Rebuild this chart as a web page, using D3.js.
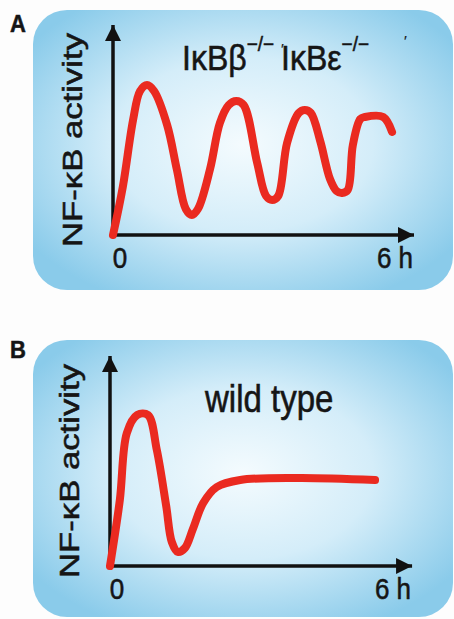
<!DOCTYPE html>
<html>
<head>
<meta charset="utf-8">
<script src="https://cdn.jsdelivr.net/npm/d3@7"></script>
<style>
  body { margin: 0; background: #fdfdfd; }
  svg { display: block; }
  text { font-family: "Liberation Sans", Arial, sans-serif; fill: #151515; stroke: #151515; stroke-width: 0.5px; }
</style>
</head>
<body>
<div id="chart"></div>
<script>
// time in hours, NF-kB activity in relative units (0..1)
var hoursA    = [0, 0.21, 0.43, 0.58, 0.73, 0.88, 1.16, 1.37, 1.56, 1.69, 1.82, 2.08, 2.29, 2.48, 2.64, 2.80,
                 3.09, 3.28, 3.41, 3.54, 3.73, 3.98, 4.11, 4.24, 4.44, 4.65, 4.79, 4.91, 5.03, 5.14, 5.30, 5.40, 5.79, 5.98];
var activityA = [0, 0.24, 0.575, 0.72, 0.75, 0.72, 0.55, 0.325, 0.13, 0.10, 0.13, 0.33, 0.56, 0.65, 0.67, 0.65,
                 0.36, 0.195, 0.175, 0.195, 0.46, 0.61, 0.625, 0.61, 0.47, 0.28, 0.22, 0.21, 0.225, 0.45, 0.58, 0.59, 0.59, 0.515];

var hoursB    = [0, 0.21, 0.36, 0.58, 0.81, 1.00, 1.20, 1.32, 1.45, 1.60, 1.77, 1.99, 2.28, 2.78, 4.06, 5.66];
var activityB = [0, 0.33, 0.665, 0.755, 0.755, 0.58, 0.30, 0.12, 0.07, 0.09, 0.185, 0.315, 0.395, 0.43, 0.44, 0.43];

var panelLabels = ["A", "B"];
var tickLabels = ["0", "6 h"];
var yLabel = "NF-\u03BAB activity";

var width = 454, height = 619;

var svg = d3.select("#chart").append("svg")
  .attr("width", width)
  .attr("height", height);

var defs = svg.append("defs");
var grad = defs.append("radialGradient")
  .attr("id", "bg")
  .attr("cx", "50%").attr("cy", "48%")
  .attr("r", "62%");
grad.append("stop").attr("offset", "0%").attr("stop-color", "#f4fbfe");
grad.append("stop").attr("offset", "50%").attr("stop-color", "#d4edf9");
grad.append("stop").attr("offset", "100%").attr("stop-color", "#8acbea");

defs.append("marker")
  .attr("id", "arrow")
  .attr("viewBox", "0 0 10 10")
  .attr("refX", 10).attr("refY", 5)
  .attr("markerUnits", "userSpaceOnUse")
  .attr("markerWidth", 22).attr("markerHeight", 16)
  .attr("orient", "auto")
  .append("path")
  .attr("d", "M0,0 L10,5 L0,10 Z")
  .attr("fill", "#111");

var panels = [
  { label: panelLabels[0], box: [33, 10, 420, 280], origin: [113, 235], xEnd: 393,
    hours: hoursA, activity: activityA, labelY: 32 },
  { label: panelLabels[1], box: [33, 340, 420, 277], origin: [110, 566], xEnd: 391,
    hours: hoursB, activity: activityB, labelY: 358 }
];

panels.forEach(function(p, i) {
  var g = svg.append("g");

  g.append("rect")
    .attr("x", p.box[0]).attr("y", p.box[1])
    .attr("width", p.box[2]).attr("height", p.box[3])
    .attr("rx", 34).attr("ry", 34)
    .attr("fill", "url(#bg)");

  g.append("text")
    .attr("transform", "translate(10," + p.labelY + ") scale(1,1.12)")
    .style("font-weight", "bold")
    .style("font-size", "22px")
    .text(p.label);

  var x = d3.scaleLinear().domain([0, 6]).range([p.origin[0], p.xEnd]);
  var y = d3.scaleLinear().domain([0, 1]).range([p.origin[1], p.origin[1] - 200]);

  // axes with arrow heads
  g.append("line")
    .attr("x1", x(0)).attr("y1", y(0))
    .attr("x2", x(0)).attr("y2", y(1.05))
    .attr("stroke", "#111").attr("stroke-width", 3.5)
    .attr("marker-end", "url(#arrow)");
  g.append("line")
    .attr("x1", x(0) - 1.5).attr("y1", y(0))
    .attr("x2", x(6.45)).attr("y2", y(0))
    .attr("stroke", "#111").attr("stroke-width", 3.5)
    .attr("marker-end", "url(#arrow)");

  g.append("text")
    .attr("transform", "translate(" + (x(0) + 7) + "," + (y(0) + 33) + ") scale(1,1.15)")
    .attr("text-anchor", "middle")
    .style("font-size", "26px")
    .text(tickLabels[0]);
  g.append("text")
    .attr("transform", "translate(" + (x(6) + 2) + "," + (y(0) + 33) + ") scale(1,1.15)")
    .attr("text-anchor", "middle")
    .style("font-size", "26px")
    .text(tickLabels[1]);

  g.append("text")
    .attr("transform", "translate(" + (x(0) - 31) + "," + (y(0) + 12) + ") rotate(-90)")
    .attr("textLength", 214)
    .attr("lengthAdjust", "spacingAndGlyphs")
    .style("font-size", "27px")
    .text(yLabel);

  var line = d3.line()
    .x(function(d, j) { return x(p.hours[j]); })
    .y(function(d) { return y(d); })
    .curve(d3.curveCatmullRom.alpha(0.5));

  g.append("path")
    .datum(p.activity)
    .attr("d", line)
    .attr("fill", "none")
    .attr("stroke", "#ea2a20")
    .attr("stroke-width", 8)
    .attr("stroke-linecap", "round")
    .attr("stroke-linejoin", "round");

  p.g = g;
});

// condition titles
var titleA = panels[0].g.append("text")
  .attr("transform", "translate(182,70) scale(1,1.1)")
  .style("font-size", "32px");
titleA.append("tspan").text("I\u03BAB\u03B2");
titleA.append("tspan").attr("dy", -17).style("font-size", "19px").text("\u2212/\u2212");
titleA.append("tspan").attr("dx", 7).attr("dy", 17).text("I\u03BAB\u03B5");
titleA.append("tspan").attr("dy", -17).style("font-size", "19px").text("\u2212/\u2212");

// stray primes in the original artwork
panels[0].g.append("text").attr("x", 281).attr("y", 54).style("font-size", "15px").style("stroke-width", "0.2px").text("\u2032");
panels[0].g.append("text").attr("x", 404).attr("y", 46).style("font-size", "15px").style("stroke-width", "0.2px").text("\u2032");

panels[1].g.append("text")
  .attr("transform", "translate(205,412) scale(1,1.15)")
  .style("font-size", "33px")
  .text("wild type");
</script>
</body>
</html>
